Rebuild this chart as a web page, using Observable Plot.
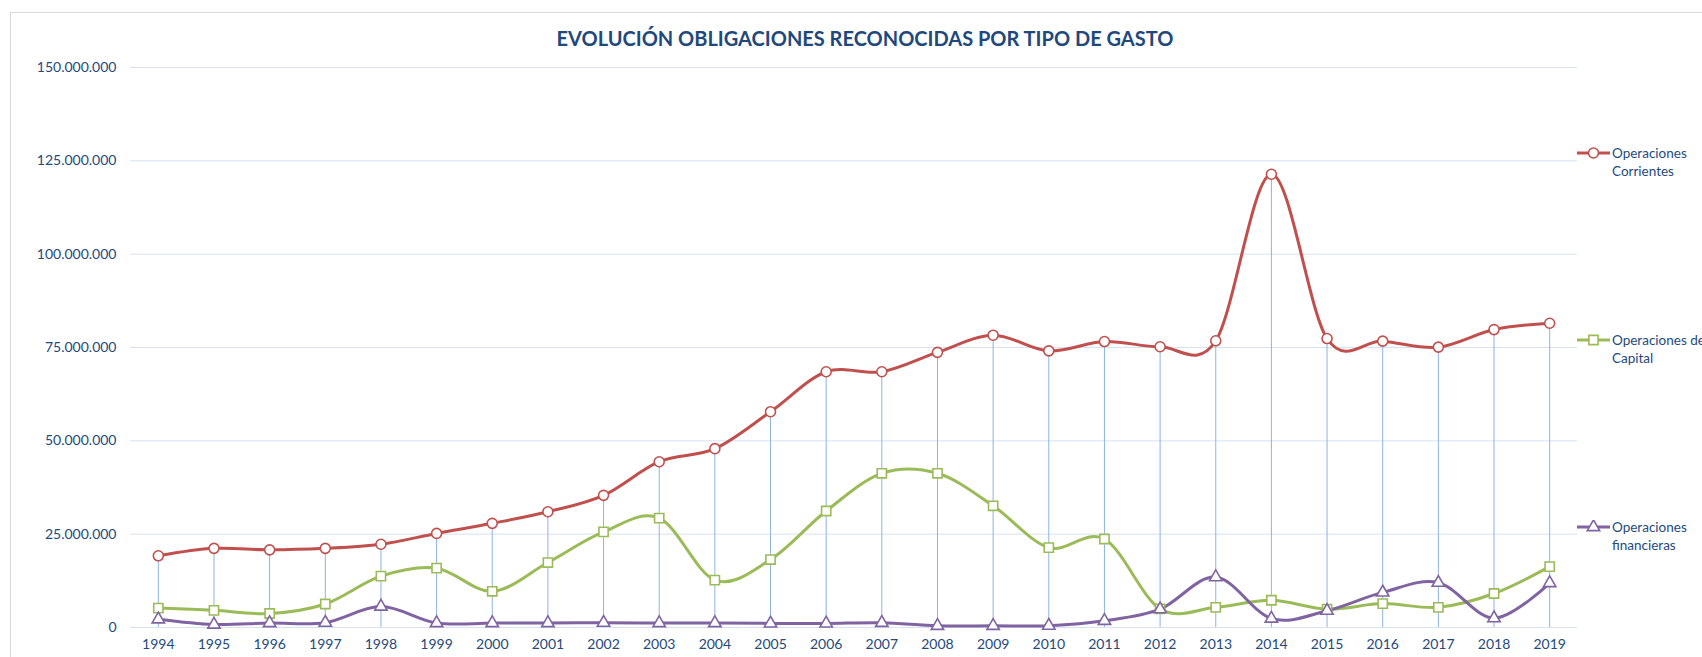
<!DOCTYPE html>
<html>
<head>
<meta charset="utf-8">
<script src="https://cdn.jsdelivr.net/npm/d3@7"></script>
<script src="https://cdn.jsdelivr.net/npm/@observablehq/plot@0.6"></script>
<style>
html, body { margin: 0; padding: 0; background: #fff; overflow: hidden; }
#wrap { position: relative; width: 1702px; height: 657px; overflow: hidden; font-family: Lato, "Open Sans", sans-serif; color: #244A7C; }
#frame { position: absolute; left: 10px; top: 12px; width: 1900px; height: 900px; border-left: 1px solid #d9d9d9; border-top: 1px solid #d9d9d9; }
#chart { position: absolute; left: 0; top: 0; }
#title { position: absolute; left: 0; width: 1730px; top: 25px; text-align: center; font-weight: 700; font-size: 20px; line-height: 26px; color: #1F497D; white-space: nowrap; }
.leg { position: absolute; left: 1577px; display: flex; align-items: flex-start; font-size: 13.5px; line-height: 18px; white-space: nowrap; }
.leg svg { flex: none; margin-top: 2px; }
.leg span { margin-left: 2px; }
</style>
</head>
<body>
<div id="wrap">
  <div id="frame"></div>
  <div id="chart"></div>
  <div id="title"></div>
  <div id="legend"></div>
</div>
<script>
const chartTitle = "EVOLUCIÓN OBLIGACIONES RECONOCIDAS POR TIPO DE GASTO";
const years = ["1994","1995","1996","1997","1998","1999","2000","2001","2002","2003","2004","2005","2006","2007","2008","2009","2010","2011","2012","2013","2014","2015","2016","2017","2018","2019"];
const seriesNames = ["Operaciones Corrientes", "Operaciones de Capital", "Operaciones financieras"];
const legendLines = [["Operaciones", "Corrientes"], ["Operaciones de", "Capital"], ["Operaciones", "financieras"]];
// values in millions of euros
const corrientes = [19.2, 21.2, 20.8, 21.2, 22.3, 25.2, 27.9, 31.0, 35.4, 44.4, 47.9, 57.8, 68.5, 68.5, 73.7, 78.3, 74.1, 76.6, 75.2, 76.8, 121.4, 77.4, 76.7, 75.1, 79.8, 81.5];
const capital    = [5.2, 4.6, 3.75, 6.3, 13.75, 15.9, 9.7, 17.4, 25.6, 29.3, 12.7, 18.2, 31.2, 41.3, 41.3, 32.6, 21.4, 23.7, 5.0, 5.4, 7.3, 4.9, 6.4, 5.4, 9.1, 16.3];
const financieras = [2.2, 0.8, 1.2, 1.3, 5.6, 1.2, 1.2, 1.2, 1.3, 1.2, 1.2, 1.1, 1.1, 1.25, 0.45, 0.45, 0.5, 1.8, 4.9, 13.5, 2.4, 4.5, 9.4, 12.0, 2.5, 11.9];
const yTicks = [0, 25e6, 50e6, 75e6, 100e6, 125e6, 150e6];

const colors = ["#C0504D", "#9BBB59", "#8064A2"];
const symbols = ["circle", "square", "triangle"];
const symbolR = [5, 5.2, 4.6];

const seriesValues = [corrientes, capital, financieras];
const rows = seriesValues.map((vals, s) => years.map((yr, i) => ({serie: seriesNames[s], year: yr, value: vals[i] * 1e6})));
const drops = years.map((yr, i) => ({year: yr, top: Math.max(corrientes[i], capital[i], financieras[i]) * 1e6}));

const loc = d3.formatLocale({decimal: ",", thousands: ".", grouping: [3], currency: ["", "€"]});
const fmt = loc.format(",d");

const marks = [
  Plot.gridY(yTicks, {stroke: "#D6E2F2", strokeOpacity: 1, strokeWidth: 1}),
  Plot.ruleX(drops, {x: "year", y1: 0, y2: "top", stroke: "#8DB3E2", strokeWidth: 1})
];
rows.forEach((data, s) => {
  marks.push(Plot.line(data, {x: "year", y: "value", stroke: colors[s], strokeWidth: 3, curve: "cardinal"}));
});
rows.forEach((data, s) => {
  marks.push(Plot.dot(data, {x: "year", y: "value", symbol: () => symbols[s], r: symbolR[s], stroke: colors[s], strokeWidth: 1.6, fill: "white"}));
});

const chart = Plot.plot({
  width: 1702,
  height: 657,
  marginLeft: 130,
  marginRight: 125,
  marginTop: 67,
  marginBottom: 30,
  style: {fontFamily: "Lato, 'Open Sans', sans-serif", fontSize: "14px", color: "#244A7C", background: "transparent", overflow: "visible"},
  x: {type: "point", domain: years, padding: 0.5, round: false, label: null, tickSize: 0, tickPadding: 12},
  y: {domain: [0, 150e6], ticks: yTicks, tickFormat: fmt, label: null, tickSize: 0, tickPadding: 14},
  symbol: {type: "identity"},
  marks
});
document.getElementById("chart").appendChild(chart);
document.getElementById("title").textContent = chartTitle;

// legend
const legendTop = [144, 331, 518];
const legend = document.getElementById("legend");
legendLines.forEach((lines, s) => {
  const item = document.createElement("div");
  item.className = "leg";
  item.style.top = legendTop[s] + "px";
  const svg = d3.create("svg").attr("width", 33).attr("height", 14);
  svg.append("line").attr("x1", 0).attr("x2", 33).attr("y1", 7).attr("y2", 7).attr("stroke", colors[s]).attr("stroke-width", 3);
  svg.append("path").attr("transform", "translate(16.5,7)")
    .attr("d", d3.symbol(s === 0 ? d3.symbolCircle : s === 1 ? d3.symbolSquare : d3.symbolTriangle, Math.PI * symbolR[s] * symbolR[s])())
    .attr("fill", "white").attr("stroke", colors[s]).attr("stroke-width", 1.6);
  item.appendChild(svg.node());
  const span = document.createElement("span");
  span.innerHTML = lines.join("<br>");
  item.appendChild(span);
  legend.appendChild(item);
});
</script>
</body>
</html>
